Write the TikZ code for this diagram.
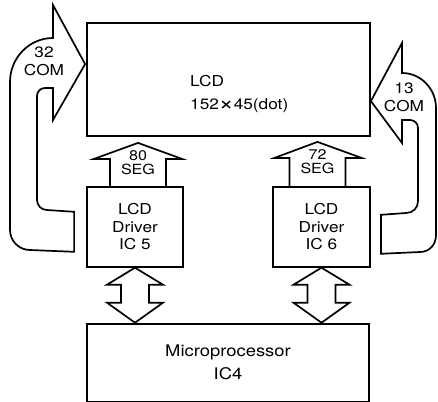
\documentclass[tikz,border=0pt]{standalone}
\usepackage{fontspec}
\setmainfont{TeX Gyre Heros}[FakeStretch=1.15]
\usetikzlibrary{calc,positioning}
\tikzset{
  chip/.style={draw=black,line width=1.8pt,inner sep=0pt,align=center,font=\fontsize{15}{17.5}\selectfont},
  hollow/.style={draw=black,line width=1.7pt,line join=miter},
  tag/.style={inner sep=0pt,align=center,font=\fontsize{15}{#1}\selectfont}
}
\begin{document}
\begin{tikzpicture}[x=1pt,y=-1pt]
\useasboundingbox (0,0) rectangle (438,401);
\node[chip,minimum width=283pt,minimum height=113pt] (lcd) at (228.5,79.5) {};
\node[tag=23,align=left,anchor=north west] (lcdtxt) at (190,75) {LCD\\152\raisebox{-1.5pt}{\fontsize{22}{22}\selectfont ×}45(dot)};
\node[chip,minimum width=96pt,minimum height=80pt,below right=49pt and 0pt of lcd.south west] (drvA) {LCD\\Driver\\IC 5};
\node[chip,minimum width=97pt,minimum height=80pt,below left=49pt and 0pt of lcd.south east] (drvB) {LCD\\Driver\\IC 6};
\node[chip,minimum width=282pt,minimum height=78pt,below right=55pt and 0pt of drvA.south west,font=\fontsize{16}{23}\selectfont] (mpu) {Microprocessor\\IC4};

\draw[hollow] ($(drvA.north)+(-25,0)$) -- ++(0,-27) -- ++(-16,0) -- ($(drvA.north |- lcd.south)+(3,6)$) -- ($(drvA.north)+(47,-27)$) -- ++(-16,0) -- ++(0,27);
\draw[hollow] ($(drvB.north)+(-32,0)$) -- ++(0,-28) -- ++(-15,0) -- ($(drvB.north |- lcd.south)+(-4,5)$) -- ($(drvB.north)+(40,-28)$) -- ++(-16,0) -- ++(0,28);
\node[tag=13.5,font=\fontsize{14}{13.5}\selectfont] (segA) at ($(drvA.north)+(3,-23)$) {80\\SEG};
\node[tag=13.5,font=\fontsize{14}{13.5}\selectfont] (segB) at ($(drvB.north)+(-4,-24)$) {72\\SEG};

\foreach \d in {drvA,drvB}
  \draw[hollow] (\d.south) -- ++(28,17) -- ++(-14,0) -- ++(0,18) -- ++(14,0) -- (\d.south |- mpu.north) -- ++(-28,-20) -- ++(14,0) -- ++(0,-18) -- ++(-14,0) -- cycle;

\draw[hollow] ($(drvA.west)+(-12,25)$) -- ++(0,-40) -- (47,210) .. controls (41.5,210) and (37,205.5) .. (37,200) -- (37,96) .. controls (37,91.5) and (40.5,88) .. (45,88) -- (53,88) -- (53,120) -- ($(lcd.north west)+(-1,42)$) -- (53,5) -- (53,38) .. controls (29,38) and (10,58) .. (10,82) -- (10,230) .. controls (10,241) and (19,250) .. (30,250) -- cycle;
\draw[hollow] ($(drvB.east)+(10,27)$) -- ++(0,-39) -- (406,213) .. controls (413,213) and (418,208) .. (418,201) -- (418,128) .. controls (418,123.5) and (414.5,120) .. (410,120) -- (402,120) -- (402,143) -- ($(lcd.north east)+(0,79)$) -- (402,43) -- (402,73) .. controls (421,73) and (436,89) .. (436,108) -- (436,235) .. controls (436,245) and (429,252) .. (420,252) -- cycle;
\node[tag=18] (comA) at (44,61.5) {32\\COM};
\node[tag=18] (comB) at (404,97.5) {13\\COM};
\end{tikzpicture}
\end{document}
